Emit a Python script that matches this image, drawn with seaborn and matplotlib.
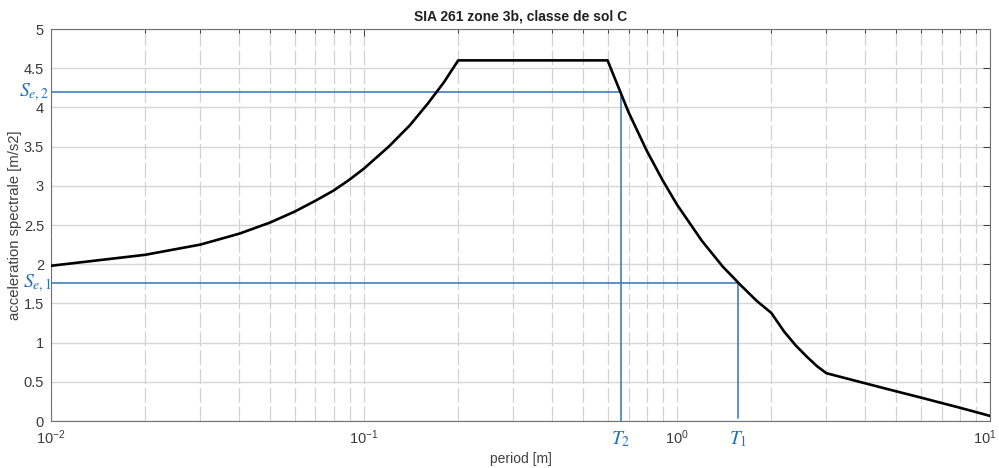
import numpy as np
import pandas as pd
import matplotlib
matplotlib.use("Agg")
import matplotlib.pyplot as plt
import matplotlib.transforms as mtransforms
from matplotlib.ticker import LogLocator, MultipleLocator, LogFormatterSciNotation
import seaborn as sns

# ------------------------
# DATA
# ------------------------

period = [0.01, 0.02, 0.03, 0.04, 0.05, 0.06, 0.07, 0.08, 0.09, 0.10,
          0.12, 0.14, 0.16, 0.18, 0.20,
          0.60, 0.70, 0.80, 0.90, 1.00, 1.20, 1.40, 1.60, 1.80, 2.00,
          2.20, 2.40, 2.60, 2.80, 3.00,
          4.00, 5.00, 6.00, 7.00, 8.00, 9.00, 10.0]
accel = [1.98, 2.12, 2.25, 2.39, 2.53, 2.67, 2.81, 2.94, 3.08, 3.22,
         3.50, 3.77, 4.05, 4.32, 4.60,
         4.60, 3.94, 3.45, 3.07, 2.76, 2.30, 1.97, 1.73, 1.53, 1.38,
         1.14, 0.96, 0.82, 0.70, 0.61,
         0.48, 0.38, 0.30, 0.23, 0.17, 0.115, 0.065]

t2, se2 = 0.66, 4.20
t1, se1 = 1.57, 1.76

title = "SIA 261 zone 3b, classe de sol C"
xlabel = "period [m]"
ylabel = "acceleration spectrale [m/s2]"

# ------------------------
# PLOT
# ------------------------

sns.set_theme(style="white")
plt.rcParams["font.family"] = ["Liberation Sans", "DejaVu Sans"]

fig = plt.figure(figsize=(9.99, 4.68), dpi=100)
ax = fig.add_axes([0.051, 0.1004, 0.940, 0.8376])

df = pd.DataFrame({"period": period, "accel": accel})
sns.lineplot(data=df, x="period", y="accel", color="black", lw=1.9,
             estimator=None, ax=ax, zorder=3)

blue_line = "#3f7fc0"
blue_text = "#1f70c1"
ax.plot([period[0], t2, t2], [se2, se2, 0], color=blue_line, lw=1.2, zorder=2)
ax.plot([period[0], t1, t1], [se1, se1, 0.04], color=blue_line, lw=1.2, zorder=2)

ax.set_xscale("log")
ax.set_xlim(0.01, 10)
ax.set_ylim(0, 5)
ax.yaxis.set_major_locator(MultipleLocator(0.5))
ax.xaxis.set_major_locator(LogLocator(base=10))
ax.xaxis.set_minor_locator(LogLocator(base=10, subs=np.arange(2, 10)))
ax.yaxis.set_major_formatter(plt.FuncFormatter(lambda v, p: f"{v:g}"))

# last decade label is drawn by hand a little to the left so it stays inside
sci = LogFormatterSciNotation()
ax.xaxis.set_major_formatter(plt.FuncFormatter(
    lambda v, p: "" if np.isclose(v, 10) else sci(v, p)))

ax.yaxis.grid(True, color="#d6d6d6", lw=1.0)
ax.xaxis.grid(True, which="both", color="#d2d2d2", lw=0.9, ls=(0, (12, 3)))
ax.set_axisbelow(True)

ax.tick_params(which="both", direction="in", top=True, right=True,
               colors="#3a3a3a", labelsize=10.5, width=0.7)
ax.tick_params(which="major", length=5, pad=5)
ax.tick_params(which="minor", length=3)
for s in ax.spines.values():
    s.set_color("#707070")
    s.set_linewidth(0.8)

ax.set_title(title, fontsize=10, fontweight="bold", color="#202020", pad=6)
ax.set_xlabel(xlabel, fontsize=10, color="#404040", labelpad=4)
ax.set_ylabel(ylabel, fontsize=10.7, color="#404040", labelpad=1)

ax.annotate(r"$\mathdefault{10^{1}}$", xy=(10, 0), xycoords=("data", "axes fraction"),
            xytext=(-4, -5), textcoords="offset points", ha="center", va="top",
            fontsize=10.5, color="#3a3a3a")

# annotations
ty = mtransforms.blended_transform_factory(ax.transAxes, ax.transData)
tx = mtransforms.blended_transform_factory(ax.transData, ax.transAxes)
ax.text(-0.002, se2, r"$S_{\mathit{e,2}}$", transform=ty, ha="right", va="center",
        fontsize=14, color=blue_text, math_fontfamily="stix")
ax.text(0.001, se1, r"$S_{\mathit{e,1}}$", transform=ty, ha="right", va="center",
        fontsize=14, color=blue_text, math_fontfamily="stix")
ax.text(t2, -0.045, r"$T_{\mathit{2}}$", transform=tx, ha="center", va="center",
        fontsize=14, color=blue_text, math_fontfamily="stix")
ax.text(t1, -0.045, r"$T_{\mathit{1}}$", transform=tx, ha="center", va="center",
        fontsize=14, color=blue_text, math_fontfamily="stix")

fig.savefig("out.png", dpi=100)
